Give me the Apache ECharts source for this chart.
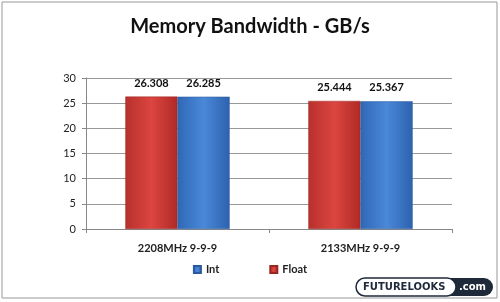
<!DOCTYPE html>
<html><head><meta charset="utf-8">
<script src="https://cdn.jsdelivr.net/npm/echarts@6/dist/echarts.min.js"></script>
<style>html,body{margin:0;padding:0;background:#fff}#c{width:500px;height:302px}</style>
</head><body><div id="c"></div>
<script>
const categories = ['2208MHz 9-9-9', '2133MHz 9-9-9'];
const floatValues = [26.308, 25.444];
const intValues = [26.285, 25.367];
const yTicks = [0, 5, 10, 15, 20, 25, 30];
const titleText = 'Memory Bandwidth - GB/s';

const chart = echarts.init(document.getElementById('c'));
function grad(c1, c2, c3) {
  return new echarts.graphic.LinearGradient(0, 0, 1, 0, [
    {offset: 0, color: c1}, {offset: 0.5, color: c2}, {offset: 1, color: c3}
  ]);
}
const fontFam = 'Lato, "Open Sans", sans-serif';
chart.setOption({
  animation: false,
  title: {text: titleText, left: 'center', top: 12,
    textStyle: {fontFamily: fontFam, fontSize: 20, fontWeight: 'bold', color: '#111'}},
  grid: {left: 86, right: 48, top: 78, bottom: 73},
  legend: {data: ['Int', 'Float'], bottom: 22, left: 'center', itemWidth: 7, itemHeight: 7,
    itemGap: 50, icon: 'rect',
    textStyle: {fontFamily: fontFam, fontSize: 11, color: '#222', fontWeight: 'bold'}},
  xAxis: {type: 'category', data: categories,
    axisLine: {lineStyle: {color: '#888'}}, axisTick: {show: true, length: 4, lineStyle: {color: '#888'}},
    axisLabel: {fontFamily: fontFam, fontSize: 11, color: '#222', fontWeight: 'bold', margin: 14}},
  yAxis: {type: 'value', min: 0, max: 30, interval: 5,
    axisLine: {show: true, lineStyle: {color: '#888'}},
    axisTick: {show: true, length: 4, lineStyle: {color: '#888'}},
    splitLine: {lineStyle: {color: '#999'}},
    axisLabel: {fontFamily: fontFam, fontSize: 11, color: '#222', margin: 10,
      formatter: v => yTicks.includes(v) ? String(v) : ''}},
  series: [
    {name: 'Float', type: 'bar', data: floatValues, barGap: '0%', barCategoryGap: '43%',
      itemStyle: {color: grad('#b8302c', '#dc4540', '#b02a26'), borderColor: '#9a2622', borderWidth: 0.5},
      label: {show: true, position: 'top', distance: 8, fontFamily: fontFam, fontSize: 11, color: '#111',
        fontWeight: 'bold', formatter: p => p.value.toFixed(3)}},
    {name: 'Int', type: 'bar', data: intValues,
      itemStyle: {color: grad('#2f68b5', '#4a88d8', '#2d62ae'), borderColor: '#2a5a9e', borderWidth: 0.5},
      label: {show: true, position: 'top', distance: 8, fontFamily: fontFam, fontSize: 11, color: '#111',
        fontWeight: 'bold', formatter: p => p.value.toFixed(3)}}
  ],
  color: ['#d03c36', '#3d7cc9'],
  graphic: [
    {type: 'rect', shape: {x: 2, y: 2, width: 495, height: 296}, style: {fill: 'none', stroke: '#999', lineWidth: 1}, z: -1},
    {type: 'rect', shape: {x: 440, y: 278, width: 53, height: 18, r: 9}, style: {fill: '#1e2a3a'}},
    {type: 'rect', shape: {x: 356, y: 278, width: 100, height: 18, r: 9}, style: {fill: '#fff', stroke: '#1e2a3a', lineWidth: 1.5}},
    {type: 'text', x: 363, y: 282, style: {text: 'FUTURELOOKS', font: 'bold 10px "DejaVu Sans"', fill: '#1e2a3a'}},
    {type: 'text', x: 459, y: 282, style: {text: '.com', font: 'bold 10px "DejaVu Sans"', fill: '#fff'}}
  ]
});
</script></body></html>
